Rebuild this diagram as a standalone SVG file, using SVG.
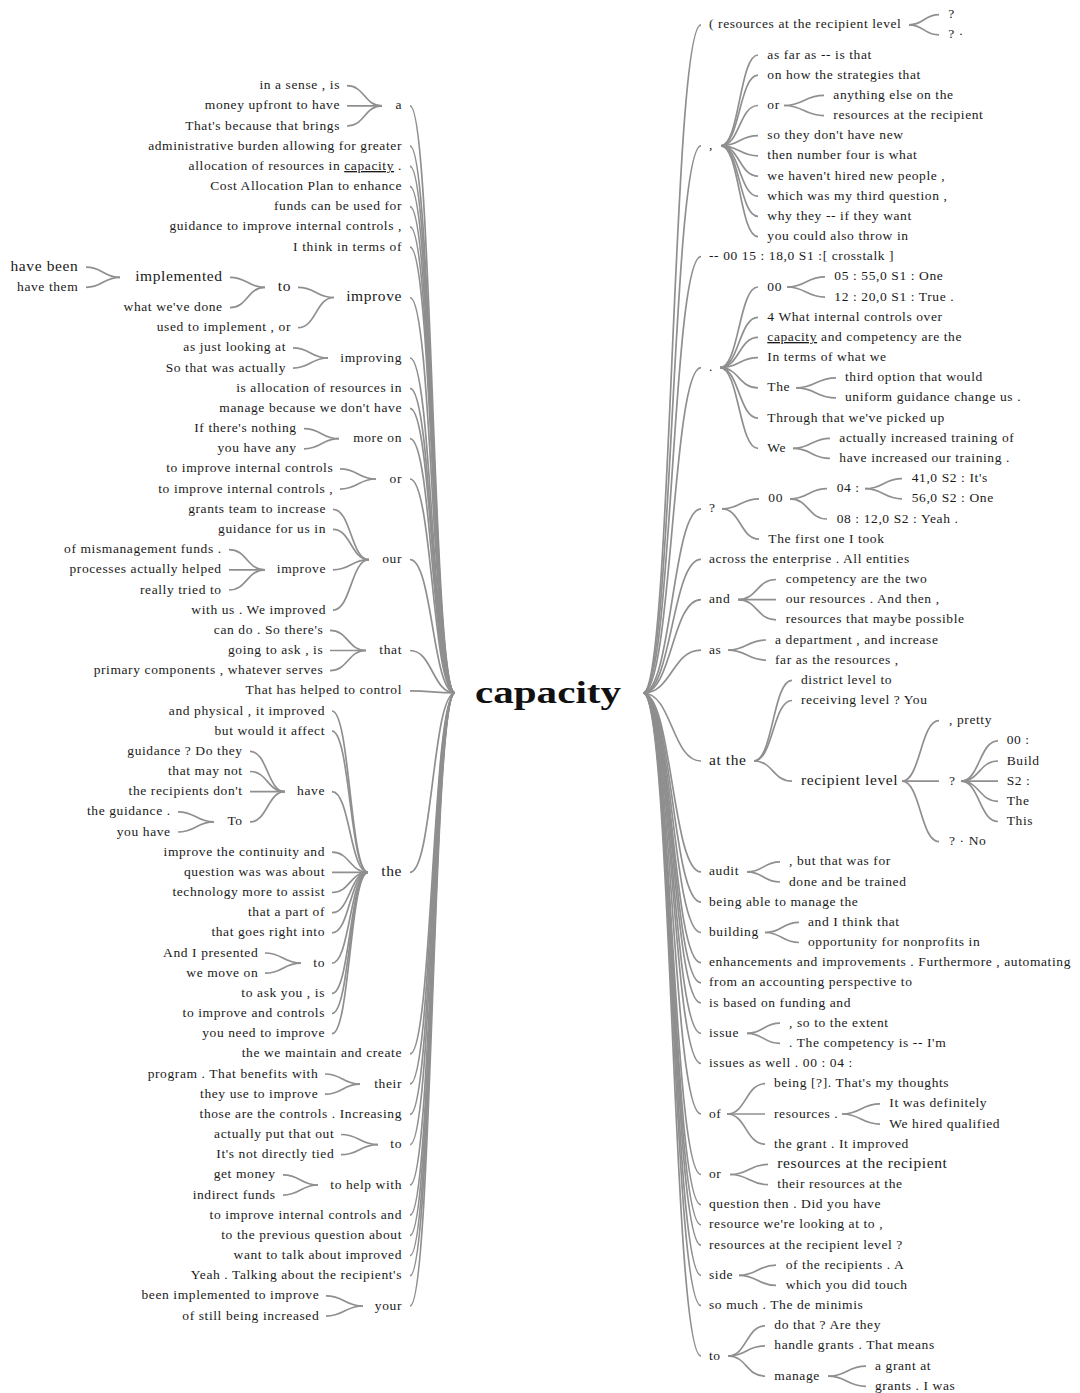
<svg xmlns="http://www.w3.org/2000/svg" width="1080" height="1393" viewBox="0 0 1080 1393">
<style>
  text { font-family: "Liberation Serif", "Times New Roman", serif; font-size: 13.5px; letter-spacing: 0.6px; fill: #1a1a1a; }
  .l { text-anchor: end; }
  .big { font-size: 15.5px; }
  .hub { font-size: 32px; font-weight: bold; letter-spacing: 0; fill: #111; }
  .u { text-decoration: underline; }
  #links path { fill: none; stroke: #8f8f8f; stroke-width: 1.7; }
</style>
<rect width="1080" height="1393" fill="#fff"/>

<!-- connectors: horizontal-tangent cubic links between word nodes -->
<g id="links">
  <!-- root to left branches -->
  <path d="M410,105.9 C432.5,105.9 432.5,693 455,693"/>
  <path d="M410,146.2 C432.5,146.2 432.5,693 455,693"/>
  <path d="M410,166.4 C432.5,166.4 432.5,693 455,693"/>
  <path d="M410,186.6 C432.5,186.6 432.5,693 455,693"/>
  <path d="M410,206.7 C432.5,206.7 432.5,693 455,693"/>
  <path d="M410,226.9 C432.5,226.9 432.5,693 455,693"/>
  <path d="M410,247.1 C432.5,247.1 432.5,693 455,693"/>
  <path d="M410,297.5 C432.5,297.5 432.5,693 455,693"/>
  <path d="M410,358.0 C432.5,358.0 432.5,693 455,693"/>
  <path d="M410,388.3 C432.5,388.3 432.5,693 455,693"/>
  <path d="M410,408.4 C432.5,408.4 432.5,693 455,693"/>
  <path d="M410,438.7 C432.5,438.7 432.5,693 455,693"/>
  <path d="M410,479.0 C432.5,479.0 432.5,693 455,693"/>
  <path d="M410,559.7 C432.5,559.7 432.5,693 455,693"/>
  <path d="M410,650.5 C432.5,650.5 432.5,693 455,693"/>
  <path d="M410,690.8 C432.5,690.8 432.5,693 455,693"/>
  <path d="M410,872.3 C432.5,872.3 432.5,693 455,693"/>
  <path d="M410,1053.9 C432.5,1053.9 432.5,693 455,693"/>
  <path d="M410,1084.1 C432.5,1084.1 432.5,693 455,693"/>
  <path d="M410,1114.4 C432.5,1114.4 432.5,693 455,693"/>
  <path d="M410,1144.6 C432.5,1144.6 432.5,693 455,693"/>
  <path d="M410,1185.0 C432.5,1185.0 432.5,693 455,693"/>
  <path d="M410,1215.2 C432.5,1215.2 432.5,693 455,693"/>
  <path d="M410,1235.4 C432.5,1235.4 432.5,693 455,693"/>
  <path d="M410,1255.6 C432.5,1255.6 432.5,693 455,693"/>
  <path d="M410,1275.7 C432.5,1275.7 432.5,693 455,693"/>
  <path d="M410,1306.0 C432.5,1306.0 432.5,693 455,693"/>

  <!-- left sub-branches -->
  <path d="M347,85.7 C364.5,85.7 364.5,105.9 382,105.9"/>
  <path d="M347,105.9 C364.5,105.9 364.5,105.9 382,105.9"/>
  <path d="M347,126.0 C364.5,126.0 364.5,105.9 382,105.9"/>

  <path d="M298,287.4 C316,287.4 316,297.5 334,297.5"/>
  <path d="M298,327.7 C316,327.7 316,297.5 334,297.5"/>
  <path d="M230,277.3 C247.5,277.3 247.5,287.4 265,287.4"/>
  <path d="M230,307.6 C247.5,307.6 247.5,287.4 265,287.4"/>
  <path d="M86,267.2 C103,267.2 103,277.3 120,277.3"/>
  <path d="M86,287.4 C103,287.4 103,277.3 120,277.3"/>

  <path d="M293,347.9 C310.5,347.9 310.5,358.0 328,358.0"/>
  <path d="M293,368.1 C310.5,368.1 310.5,358.0 328,358.0"/>

  <path d="M304,428.6 C321.5,428.6 321.5,438.7 339,438.7"/>
  <path d="M304,448.8 C321.5,448.8 321.5,438.7 339,438.7"/>

  <path d="M340,468.9 C358,468.9 358,479.0 376,479.0"/>
  <path d="M340,489.1 C358,489.1 358,479.0 376,479.0"/>

  <path d="M333,509.3 C351,509.3 351,559.7 369,559.7"/>
  <path d="M333,529.4 C351,529.4 351,559.7 369,559.7"/>
  <path d="M333,569.8 C351,569.8 351,559.7 369,559.7"/>
  <path d="M333,610.1 C351,610.1 351,559.7 369,559.7"/>
  <path d="M229,549.6 C247,549.6 247,569.8 265,569.8"/>
  <path d="M229,569.8 C247,569.8 247,569.8 265,569.8"/>
  <path d="M229,590.0 C247,590.0 247,569.8 265,569.8"/>

  <path d="M330,630.3 C348,630.3 348,650.5 366,650.5"/>
  <path d="M330,650.5 C348,650.5 348,650.5 366,650.5"/>
  <path d="M330,670.6 C348,670.6 348,650.5 366,650.5"/>

  <path d="M332,711.0 C350,711.0 350,872.3 368,872.3"/>
  <path d="M332,731.1 C350,731.1 350,872.3 368,872.3"/>
  <path d="M332,791.7 C350,791.7 350,872.3 368,872.3"/>
  <path d="M332,852.2 C350,852.2 350,872.3 368,872.3"/>
  <path d="M332,872.3 C350,872.3 350,872.3 368,872.3"/>
  <path d="M332,892.5 C350,892.5 350,872.3 368,872.3"/>
  <path d="M332,912.7 C350,912.7 350,872.3 368,872.3"/>
  <path d="M332,932.8 C350,932.8 350,872.3 368,872.3"/>
  <path d="M332,963.1 C350,963.1 350,872.3 368,872.3"/>
  <path d="M332,993.4 C350,993.4 350,872.3 368,872.3"/>
  <path d="M332,1013.5 C350,1013.5 350,872.3 368,872.3"/>
  <path d="M332,1033.7 C350,1033.7 350,872.3 368,872.3"/>
  <path d="M250,751.3 C267.5,751.3 267.5,791.7 285,791.7"/>
  <path d="M250,771.5 C267.5,771.5 267.5,791.7 285,791.7"/>
  <path d="M250,791.7 C267.5,791.7 267.5,791.7 285,791.7"/>
  <path d="M250,821.9 C267.5,821.9 267.5,791.7 285,791.7"/>
  <path d="M178,811.8 C196,811.8 196,821.9 214,821.9"/>
  <path d="M178,832.0 C196,832.0 196,821.9 214,821.9"/>
  <path d="M265,953.0 C283,953.0 283,963.1 301,963.1"/>
  <path d="M265,973.2 C283,973.2 283,963.1 301,963.1"/>

  <path d="M325,1074.0 C342.5,1074.0 342.5,1084.1 360,1084.1"/>
  <path d="M325,1094.2 C342.5,1094.2 342.5,1084.1 360,1084.1"/>
  <path d="M341,1134.5 C359.5,1134.5 359.5,1144.6 378,1144.6"/>
  <path d="M341,1154.7 C359.5,1154.7 359.5,1144.6 378,1144.6"/>
  <path d="M283,1174.9 C300.5,1174.9 300.5,1185.0 318,1185.0"/>
  <path d="M283,1195.1 C300.5,1195.1 300.5,1185.0 318,1185.0"/>
  <path d="M326,1295.9 C344.5,1295.9 344.5,1306.0 363,1306.0"/>
  <path d="M326,1316.1 C344.5,1316.1 344.5,1306.0 363,1306.0"/>

  <!-- root to right branches -->
  <path d="M643,693 C672,693 672,24.8 701,24.8"/>
  <path d="M643,693 C672,693 672,145.8 701,145.8"/>
  <path d="M643,693 C672,693 672,256.7 701,256.7"/>
  <path d="M643,693 C672,693 672,367.7 701,367.7"/>
  <path d="M643,693 C672,693 672,508.9 701,508.9"/>
  <path d="M643,693 C672,693 672,559.3 701,559.3"/>
  <path d="M643,693 C672,693 672,599.6 701,599.6"/>
  <path d="M643,693 C672,693 672,650.1 701,650.1"/>
  <path d="M643,693 C672,693 672,761.0 701,761.0"/>
  <path d="M643,693 C672,693 672,871.9 701,871.9"/>
  <path d="M643,693 C672,693 672,902.2 701,902.2"/>
  <path d="M643,693 C672,693 672,932.5 701,932.5"/>
  <path d="M643,693 C672,693 672,962.7 701,962.7"/>
  <path d="M643,693 C672,693 672,982.9 701,982.9"/>
  <path d="M643,693 C672,693 672,1003.0 701,1003.0"/>
  <path d="M643,693 C672,693 672,1033.3 701,1033.3"/>
  <path d="M643,693 C672,693 672,1063.5 701,1063.5"/>
  <path d="M643,693 C672,693 672,1114.0 701,1114.0"/>
  <path d="M643,693 C672,693 672,1174.5 701,1174.5"/>
  <path d="M643,693 C672,693 672,1204.7 701,1204.7"/>
  <path d="M643,693 C672,693 672,1224.9 701,1224.9"/>
  <path d="M643,693 C672,693 672,1245.1 701,1245.1"/>
  <path d="M643,693 C672,693 672,1275.3 701,1275.3"/>
  <path d="M643,693 C672,693 672,1305.6 701,1305.6"/>
  <path d="M643,693 C672,693 672,1356.0 701,1356.0"/>

  <!-- right sub-branches -->
  <path d="M909,24.8 C924,24.8 924,14.7 939,14.7"/>
  <path d="M909,24.8 C924,24.8 924,34.9 939,34.9"/>

  <path d="M721,145.8 C739.5,145.8 739.5,55.0 758,55.0"/>
  <path d="M721,145.8 C739.5,145.8 739.5,75.2 758,75.2"/>
  <path d="M721,145.8 C739.5,145.8 739.5,105.5 758,105.5"/>
  <path d="M721,145.8 C739.5,145.8 739.5,135.7 758,135.7"/>
  <path d="M721,145.8 C739.5,145.8 739.5,155.9 758,155.9"/>
  <path d="M721,145.8 C739.5,145.8 739.5,176.1 758,176.1"/>
  <path d="M721,145.8 C739.5,145.8 739.5,196.2 758,196.2"/>
  <path d="M721,145.8 C739.5,145.8 739.5,216.4 758,216.4"/>
  <path d="M721,145.8 C739.5,145.8 739.5,236.6 758,236.6"/>
  <path d="M784,105.5 C804,105.5 804,95.4 824,95.4"/>
  <path d="M784,105.5 C804,105.5 804,115.6 824,115.6"/>

  <path d="M720,367.7 C739,367.7 739,287.0 758,287.0"/>
  <path d="M720,367.7 C739,367.7 739,317.3 758,317.3"/>
  <path d="M720,367.7 C739,367.7 739,337.4 758,337.4"/>
  <path d="M720,367.7 C739,367.7 739,357.6 758,357.6"/>
  <path d="M720,367.7 C739,367.7 739,387.9 758,387.9"/>
  <path d="M720,367.7 C739,367.7 739,418.1 758,418.1"/>
  <path d="M720,367.7 C739,367.7 739,448.4 758,448.4"/>
  <path d="M787,287.0 C806,287.0 806,276.9 825,276.9"/>
  <path d="M787,287.0 C806,287.0 806,297.1 825,297.1"/>
  <path d="M796,387.9 C816,387.9 816,377.8 836,377.8"/>
  <path d="M796,387.9 C816,387.9 816,397.9 836,397.9"/>
  <path d="M793,448.4 C811.5,448.4 811.5,438.3 830,438.3"/>
  <path d="M793,448.4 C811.5,448.4 811.5,458.4 830,458.4"/>

  <path d="M722,508.9 C740.5,508.9 740.5,498.8 759,498.8"/>
  <path d="M722,508.9 C740.5,508.9 740.5,539.1 759,539.1"/>
  <path d="M790,498.8 C808.5,498.8 808.5,488.7 827,488.7"/>
  <path d="M790,498.8 C808.5,498.8 808.5,519.0 827,519.0"/>
  <path d="M865,488.7 C883.5,488.7 883.5,478.6 902,478.6"/>
  <path d="M865,488.7 C883.5,488.7 883.5,498.8 902,498.8"/>

  <path d="M738,599.6 C757,599.6 757,579.5 776,579.5"/>
  <path d="M738,599.6 C757,599.6 757,599.6 776,599.6"/>
  <path d="M738,599.6 C757,599.6 757,619.8 776,619.8"/>
  <path d="M728,650.1 C747,650.1 747,640.0 766,640.0"/>
  <path d="M728,650.1 C747,650.1 747,660.1 766,660.1"/>

  <path d="M754,761.0 C773,761.0 773,680.3 792,680.3"/>
  <path d="M754,761.0 C773,761.0 773,700.5 792,700.5"/>
  <path d="M754,761.0 C773,761.0 773,781.2 792,781.2"/>
  <path d="M902,781.2 C920.5,781.2 920.5,720.7 939,720.7"/>
  <path d="M902,781.2 C920.5,781.2 920.5,781.2 939,781.2"/>
  <path d="M902,781.2 C920.5,781.2 920.5,841.7 939,841.7"/>
  <path d="M961,781.2 C979.5,781.2 979.5,740.8 998,740.8"/>
  <path d="M961,781.2 C979.5,781.2 979.5,761.0 998,761.0"/>
  <path d="M961,781.2 C979.5,781.2 979.5,781.2 998,781.2"/>
  <path d="M961,781.2 C979.5,781.2 979.5,801.3 998,801.3"/>
  <path d="M961,781.2 C979.5,781.2 979.5,821.5 998,821.5"/>

  <path d="M747,871.9 C763.5,871.9 763.5,861.8 780,861.8"/>
  <path d="M747,871.9 C763.5,871.9 763.5,882.0 780,882.0"/>
  <path d="M765,932.5 C782,932.5 782,922.4 799,922.4"/>
  <path d="M765,932.5 C782,932.5 782,942.5 799,942.5"/>
  <path d="M747,1033.3 C763.5,1033.3 763.5,1023.2 780,1023.2"/>
  <path d="M747,1033.3 C763.5,1033.3 763.5,1043.4 780,1043.4"/>

  <path d="M727,1114.0 C746,1114.0 746,1083.7 765,1083.7"/>
  <path d="M727,1114.0 C746,1114.0 746,1114.0 765,1114.0"/>
  <path d="M727,1114.0 C746,1114.0 746,1144.2 765,1144.2"/>
  <path d="M842,1114.0 C861,1114.0 861,1103.9 880,1103.9"/>
  <path d="M842,1114.0 C861,1114.0 861,1124.1 880,1124.1"/>
  <path d="M730,1174.5 C749,1174.5 749,1164.4 768,1164.4"/>
  <path d="M730,1174.5 C749,1174.5 749,1184.6 768,1184.6"/>
  <path d="M739,1275.3 C757.5,1275.3 757.5,1265.2 776,1265.2"/>
  <path d="M739,1275.3 C757.5,1275.3 757.5,1285.4 776,1285.4"/>
  <path d="M728,1356.0 C746.5,1356.0 746.5,1325.8 765,1325.8"/>
  <path d="M728,1356.0 C746.5,1356.0 746.5,1345.9 765,1345.9"/>
  <path d="M728,1356.0 C746.5,1356.0 746.5,1376.2 765,1376.2"/>
  <path d="M828,1376.2 C847,1376.2 847,1366.1 866,1366.1"/>
  <path d="M828,1376.2 C847,1376.2 847,1386.3 866,1386.3"/>
</g>

<!-- central keyword -->
<g id="root">
  <text class="hub" x="475" y="703" textLength="146" lengthAdjust="spacingAndGlyphs">capacity</text>
</g>

<!-- word nodes; y values are line centres, shifted down to the baseline -->
<g id="nodes" transform="translate(0,3.6)">
  <!-- left side: preceding words, right-aligned -->
  <g id="l-a"><text class="l" x="402" y="105.9">a</text></g>
  <g id="l-a-1"><text class="l" x="340" y="85.7">in a sense , is</text></g>
  <g id="l-a-2"><text class="l" x="340" y="105.9">money upfront to have</text></g>
  <g id="l-a-3"><text class="l" x="340" y="126.0">That's because that brings</text></g>
  <g id="l-admin"><text class="l" x="402" y="146.2">administrative burden allowing for greater</text></g>
  <g id="l-alloc"><text class="l" x="402" y="166.4">allocation of resources in <tspan class="u">capacity</tspan> .</text></g>
  <g id="l-cost"><text class="l" x="402" y="186.6">Cost Allocation Plan to enhance</text></g>
  <g id="l-funds"><text class="l" x="402" y="206.7">funds can be used for</text></g>
  <g id="l-guid"><text class="l" x="402" y="226.9">guidance to improve internal controls ,</text></g>
  <g id="l-think"><text class="l" x="402" y="247.1">I think in terms of</text></g>
  <g id="l-improve"><text class="l big" x="402" y="297.5">improve</text></g>
  <g id="l-improve-to"><text class="l big" x="291" y="287.4">to</text></g>
  <g id="l-implemented"><text class="l big" x="222.7" y="277.3">implemented</text></g>
  <g id="l-havebeen"><text class="l big" x="78.3" y="267.2">have been</text></g>
  <g id="l-havethem"><text class="l" x="78.3" y="287.4">have them</text></g>
  <g id="l-whatdone"><text class="l" x="222.7" y="307.6">what we've done</text></g>
  <g id="l-usedto"><text class="l" x="291" y="327.7">used to implement , or</text></g>
  <g id="l-improving"><text class="l" x="402" y="358.0">improving</text></g>
  <g id="l-improving-1"><text class="l" x="286" y="347.9">as just looking at</text></g>
  <g id="l-improving-2"><text class="l" x="286" y="368.1">So that was actually</text></g>
  <g id="l-isalloc"><text class="l" x="402" y="388.3">is allocation of resources in</text></g>
  <g id="l-manage"><text class="l" x="402" y="408.4">manage because we don't have</text></g>
  <g id="l-moreon"><text class="l" x="402" y="438.7">more on</text></g>
  <g id="l-moreon-1"><text class="l" x="296.7" y="428.6">If there's nothing</text></g>
  <g id="l-moreon-2"><text class="l" x="296.7" y="448.8">you have any</text></g>
  <g id="l-or"><text class="l" x="402" y="479.0">or</text></g>
  <g id="l-or-1"><text class="l" x="333.3" y="468.9">to improve internal controls</text></g>
  <g id="l-or-2"><text class="l" x="333.3" y="489.1">to improve internal controls ,</text></g>
  <g id="l-our"><text class="l" x="402" y="559.7">our</text></g>
  <g id="l-our-1"><text class="l" x="326" y="509.3">grants team to increase</text></g>
  <g id="l-our-2"><text class="l" x="326" y="529.4">guidance for us in</text></g>
  <g id="l-our-improve"><text class="l" x="326" y="569.8">improve</text></g>
  <g id="l-our-improve-1"><text class="l" x="221.7" y="549.6">of mismanagement funds .</text></g>
  <g id="l-our-improve-2"><text class="l" x="221.7" y="569.8">processes actually helped</text></g>
  <g id="l-our-improve-3"><text class="l" x="221.7" y="590.0">really tried to</text></g>
  <g id="l-our-3"><text class="l" x="326" y="610.1">with us . We improved</text></g>
  <g id="l-that"><text class="l" x="402" y="650.5">that</text></g>
  <g id="l-that-1"><text class="l" x="323.3" y="630.3">can do . So there's</text></g>
  <g id="l-that-2"><text class="l" x="323.3" y="650.5">going to ask , is</text></g>
  <g id="l-that-3"><text class="l" x="323.3" y="670.6">primary components , whatever serves</text></g>
  <g id="l-helped"><text class="l" x="402" y="690.8">That has helped to control</text></g>
  <g id="l-the"><text class="l big" x="402" y="872.3">the</text></g>
  <g id="l-the-1"><text class="l" x="325" y="711.0">and physical , it improved</text></g>
  <g id="l-the-2"><text class="l" x="325" y="731.1">but would it affect</text></g>
  <g id="l-the-have"><text class="l" x="325" y="791.7">have</text></g>
  <g id="l-have-1"><text class="l" x="242.7" y="751.3">guidance ? Do they</text></g>
  <g id="l-have-2"><text class="l" x="242.7" y="771.5">that may not</text></g>
  <g id="l-have-3"><text class="l" x="242.7" y="791.7">the recipients don't</text></g>
  <g id="l-have-To"><text class="l" x="242.7" y="821.9">To</text></g>
  <g id="l-To-1"><text class="l" x="170.7" y="811.8">the guidance .</text></g>
  <g id="l-To-2"><text class="l" x="170.7" y="832.0">you have</text></g>
  <g id="l-the-3"><text class="l" x="325" y="852.2">improve the continuity and</text></g>
  <g id="l-the-4"><text class="l" x="325" y="872.3">question was was about</text></g>
  <g id="l-the-5"><text class="l" x="325" y="892.5">technology more to assist</text></g>
  <g id="l-the-6"><text class="l" x="325" y="912.7">that a part of</text></g>
  <g id="l-the-7"><text class="l" x="325" y="932.8">that goes right into</text></g>
  <g id="l-the-to"><text class="l" x="325" y="963.1">to</text></g>
  <g id="l-the-to-1"><text class="l" x="258.3" y="953.0">And I presented</text></g>
  <g id="l-the-to-2"><text class="l" x="258.3" y="973.2">we move on</text></g>
  <g id="l-the-8"><text class="l" x="325" y="993.4">to ask you , is</text></g>
  <g id="l-the-9"><text class="l" x="325" y="1013.5">to improve and controls</text></g>
  <g id="l-the-10"><text class="l" x="325" y="1033.7">you need to improve</text></g>
  <g id="l-maintain"><text class="l" x="402" y="1053.9">the we maintain and create</text></g>
  <g id="l-their"><text class="l" x="402" y="1084.1">their</text></g>
  <g id="l-their-1"><text class="l" x="318.3" y="1074.0">program . That benefits with</text></g>
  <g id="l-their-2"><text class="l" x="318.3" y="1094.2">they use to improve</text></g>
  <g id="l-those"><text class="l" x="402" y="1114.4">those are the controls . Increasing</text></g>
  <g id="l-to"><text class="l" x="402" y="1144.6">to</text></g>
  <g id="l-to-1"><text class="l" x="334.3" y="1134.5">actually put that out</text></g>
  <g id="l-to-2"><text class="l" x="334.3" y="1154.7">It's not directly tied</text></g>
  <g id="l-tohelp"><text class="l" x="402" y="1185.0">to help with</text></g>
  <g id="l-tohelp-1"><text class="l" x="275.7" y="1174.9">get money</text></g>
  <g id="l-tohelp-2"><text class="l" x="275.7" y="1195.1">indirect funds</text></g>
  <g id="l-toimprove"><text class="l" x="402" y="1215.2">to improve internal controls and</text></g>
  <g id="l-previous"><text class="l" x="402" y="1235.4">to the previous question about</text></g>
  <g id="l-want"><text class="l" x="402" y="1255.6">want to talk about improved</text></g>
  <g id="l-yeah"><text class="l" x="402" y="1275.7">Yeah . Talking about the recipient's</text></g>
  <g id="l-your"><text class="l" x="402" y="1306.0">your</text></g>
  <g id="l-your-1"><text class="l" x="319.3" y="1295.9">been implemented to improve</text></g>
  <g id="l-your-2"><text class="l" x="319.3" y="1316.1">of still being increased</text></g>

  <!-- right side: following words, left-aligned -->
  <g id="r-paren"><text x="709" y="24.8">( resources at the recipient level</text></g>
  <g id="r-paren-1"><text x="948.3" y="14.7">?</text></g>
  <g id="r-paren-2"><text x="948.3" y="34.9">? ·</text></g>
  <g id="r-comma"><text x="709" y="145.8">,</text></g>
  <g id="r-comma-1"><text x="767.3" y="55.0">as far as -- is that</text></g>
  <g id="r-comma-2"><text x="767.3" y="75.2">on how the strategies that</text></g>
  <g id="r-comma-or"><text x="767.3" y="105.5">or</text></g>
  <g id="r-comma-or-1"><text x="833.3" y="95.4">anything else on the</text></g>
  <g id="r-comma-or-2"><text x="833.3" y="115.6">resources at the recipient</text></g>
  <g id="r-comma-3"><text x="767.3" y="135.7">so they don't have new</text></g>
  <g id="r-comma-4"><text x="767.3" y="155.9">then number four is what</text></g>
  <g id="r-comma-5"><text x="767.3" y="176.1">we haven't hired new people ,</text></g>
  <g id="r-comma-6"><text x="767.3" y="196.2">which was my third question ,</text></g>
  <g id="r-comma-7"><text x="767.3" y="216.4">why they -- if they want</text></g>
  <g id="r-comma-8"><text x="767.3" y="236.6">you could also throw in</text></g>
  <g id="r-crosstalk"><text x="709" y="256.7">-- 00 15 : 18,0 S1 :[ crosstalk ]</text></g>
  <g id="r-dot"><text x="709" y="367.7">.</text></g>
  <g id="r-dot-00"><text x="767.3" y="287.0">00</text></g>
  <g id="r-dot-00-1"><text x="834.3" y="276.9">05 : 55,0 S1 : One</text></g>
  <g id="r-dot-00-2"><text x="834.3" y="297.1">12 : 20,0 S1 : True .</text></g>
  <g id="r-dot-1"><text x="767.3" y="317.3">4 What internal controls over</text></g>
  <g id="r-dot-2"><text x="767.3" y="337.4"><tspan class="u">capacity</tspan> and competency are the</text></g>
  <g id="r-dot-3"><text x="767.3" y="357.6">In terms of what we</text></g>
  <g id="r-dot-The"><text x="767.3" y="387.9">The</text></g>
  <g id="r-dot-The-1"><text x="845" y="377.8">third option that would</text></g>
  <g id="r-dot-The-2"><text x="845" y="397.9">uniform guidance change us .</text></g>
  <g id="r-dot-4"><text x="767.3" y="418.1">Through that we've picked up</text></g>
  <g id="r-dot-We"><text x="767.3" y="448.4">We</text></g>
  <g id="r-dot-We-1"><text x="839.3" y="438.3">actually increased training of</text></g>
  <g id="r-dot-We-2"><text x="839.3" y="458.4">have increased our training .</text></g>
  <g id="r-q"><text x="709" y="508.9">?</text></g>
  <g id="r-q-00"><text x="768.3" y="498.8">00</text></g>
  <g id="r-q-04"><text x="836.7" y="488.7">04 :</text></g>
  <g id="r-q-04-1"><text x="911.7" y="478.6">41,0 S2 : It's</text></g>
  <g id="r-q-04-2"><text x="911.7" y="498.8">56,0 S2 : One</text></g>
  <g id="r-q-08"><text x="836.7" y="519.0">08 : 12,0 S2 : Yeah .</text></g>
  <g id="r-q-first"><text x="768.3" y="539.1">The first one I took</text></g>
  <g id="r-across"><text x="709" y="559.3">across the enterprise . All entities</text></g>
  <g id="r-and"><text x="709" y="599.6">and</text></g>
  <g id="r-and-1"><text x="785.7" y="579.5">competency are the two</text></g>
  <g id="r-and-2"><text x="785.7" y="599.6">our resources . And then ,</text></g>
  <g id="r-and-3"><text x="785.7" y="619.8">resources that maybe possible</text></g>
  <g id="r-as"><text x="709" y="650.1">as</text></g>
  <g id="r-as-1"><text x="775" y="640.0">a department , and increase</text></g>
  <g id="r-as-2"><text x="775" y="660.1">far as the resources ,</text></g>
  <g id="r-atthe"><text class="big" x="709" y="761.0">at the</text></g>
  <g id="r-atthe-1"><text x="801" y="680.3">district level to</text></g>
  <g id="r-atthe-2"><text x="801" y="700.5">receiving level ? You</text></g>
  <g id="r-reclevel"><text class="big" x="801" y="781.2">recipient level</text></g>
  <g id="r-reclevel-1"><text x="949" y="720.7">, pretty</text></g>
  <g id="r-reclevel-q"><text x="949" y="781.2">?</text></g>
  <g id="r-reclevel-q-1"><text x="1006.7" y="740.8">00 :</text></g>
  <g id="r-reclevel-q-2"><text x="1006.7" y="761.0">Build</text></g>
  <g id="r-reclevel-q-3"><text x="1006.7" y="781.2">S2 :</text></g>
  <g id="r-reclevel-q-4"><text x="1006.7" y="801.3">The</text></g>
  <g id="r-reclevel-q-5"><text x="1006.7" y="821.5">This</text></g>
  <g id="r-reclevel-3"><text x="949" y="841.7">? · No</text></g>
  <g id="r-audit"><text x="709" y="871.9">audit</text></g>
  <g id="r-audit-1"><text x="789" y="861.8">, but that was for</text></g>
  <g id="r-audit-2"><text x="789" y="882.0">done and be trained</text></g>
  <g id="r-being"><text x="709" y="902.2">being able to manage the</text></g>
  <g id="r-building"><text x="709" y="932.5">building</text></g>
  <g id="r-building-1"><text x="808" y="922.4">and I think that</text></g>
  <g id="r-building-2"><text x="808" y="942.5">opportunity for nonprofits in</text></g>
  <g id="r-enh"><text x="709" y="962.7">enhancements and improvements . Furthermore , automating</text></g>
  <g id="r-from"><text x="709" y="982.9">from an accounting perspective to</text></g>
  <g id="r-isbased"><text x="709" y="1003.0">is based on funding and</text></g>
  <g id="r-issue"><text x="709" y="1033.3">issue</text></g>
  <g id="r-issue-1"><text x="789" y="1023.2">, so to the extent</text></g>
  <g id="r-issue-2"><text x="789" y="1043.4">. The competency is -- I'm</text></g>
  <g id="r-issues"><text x="709" y="1063.5">issues as well . 00 : 04 :</text></g>
  <g id="r-of"><text x="709" y="1114.0">of</text></g>
  <g id="r-of-1"><text x="774" y="1083.7">being [?]. That's my thoughts</text></g>
  <g id="r-of-res"><text x="774" y="1114.0">resources .</text></g>
  <g id="r-of-res-1"><text x="889.3" y="1103.9">It was definitely</text></g>
  <g id="r-of-res-2"><text x="889.3" y="1124.1">We hired qualified</text></g>
  <g id="r-of-2"><text x="774" y="1144.2">the grant . It improved</text></g>
  <g id="r-or"><text x="709" y="1174.5">or</text></g>
  <g id="r-or-1"><text class="big" x="777.3" y="1164.4">resources at the recipient</text></g>
  <g id="r-or-2"><text x="777.3" y="1184.6">their resources at the</text></g>
  <g id="r-question"><text x="709" y="1204.7">question then . Did you have</text></g>
  <g id="r-resource"><text x="709" y="1224.9">resource we're looking at to ,</text></g>
  <g id="r-reslevel"><text x="709" y="1245.1">resources at the recipient level ?</text></g>
  <g id="r-side"><text x="709" y="1275.3">side</text></g>
  <g id="r-side-1"><text x="785.7" y="1265.2">of the recipients . A</text></g>
  <g id="r-side-2"><text x="785.7" y="1285.4">which you did touch</text></g>
  <g id="r-somuch"><text x="709" y="1305.6">so much . The de minimis</text></g>
  <g id="r-to"><text x="709" y="1356.0">to</text></g>
  <g id="r-to-1"><text x="774.3" y="1325.8">do that ? Are they</text></g>
  <g id="r-to-2"><text x="774.3" y="1345.9">handle grants . That means</text></g>
  <g id="r-to-manage"><text x="774.3" y="1376.2">manage</text></g>
  <g id="r-manage-1"><text x="875" y="1366.1">a grant at</text></g>
  <g id="r-manage-2"><text x="875" y="1386.3">grants . I was</text></g>
</g>
</svg>
